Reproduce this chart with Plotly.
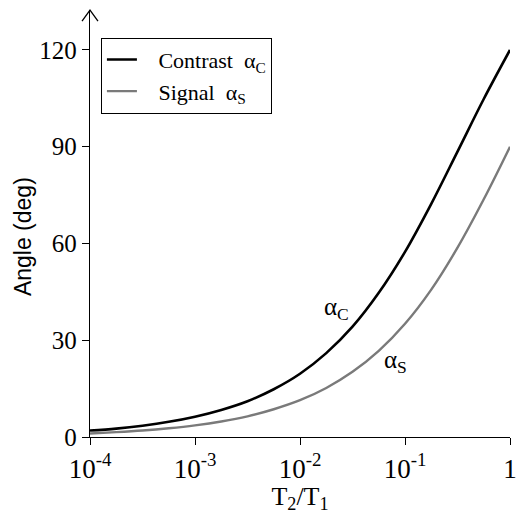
import plotly.graph_objects as go

# T2/T1 ratio (quarter-decade steps) and angles
ratio = [1e-4, 10**-3.75, 10**-3.5, 10**-3.25, 1e-3, 10**-2.75, 10**-2.5, 10**-2.25,
         1e-2, 10**-1.75, 10**-1.5, 10**-1.25, 1e-1, 10**-0.75, 10**-0.5, 10**-0.25, 1.0]
alpha_contrast = [2.0, 2.6, 3.5, 4.7, 6.3, 8.4, 11.1, 14.8, 19.6, 26.0, 34.2, 44.7,
                  57.4, 72.3, 88.5, 104.8, 120.0]
alpha_signal = [1.1, 1.5, 2.0, 2.7, 3.6, 4.8, 6.4, 8.6, 11.4, 15.2, 20.2, 26.7,
                35.1, 45.7, 58.7, 73.7, 90.0]

x_tickvals = [1e-4, 1e-3, 1e-2, 1e-1, 1]
x_ticktext = ["10<sup>-4</sup>", "10<sup>-3</sup>", "10<sup>-2</sup>", "10<sup>-1</sup>", "1"]
y_tickvals = [0, 30, 60, 90, 120]

SERIF = "Liberation Serif, Times New Roman, serif"
SANS = "Liberation Sans, Arial, sans-serif"
PAD = "\u00a0\u00a0\u00a0"

fig = go.Figure()
fig.add_trace(go.Scatter(
    x=ratio, y=alpha_contrast, mode="lines", line=dict(color="#000000", width=2.6, shape="spline"),
    name=PAD + "Contrast  α<sub>C</sub>"))
fig.add_trace(go.Scatter(
    x=ratio, y=alpha_signal, mode="lines", line=dict(color="#7a7a7a", width=2.4, shape="spline"),
    name=PAD + "Signal  α<sub>S</sub>"))

fig.add_annotation(x=-1.648, y=40.0, xref="x", yref="y", text="α<sub>C</sub>",
                   showarrow=False, font=dict(family=SERIF, size=25, color="black"))
fig.add_annotation(x=-1.086, y=23.3, xref="x", yref="y", text="α<sub>S</sub>",
                   showarrow=False, font=dict(family=SERIF, size=25, color="black"))

# y axis title
fig.add_annotation(x=-0.158, y=0.4696, xref="paper", yref="paper", text="Angle (deg)",
                   textangle=-90, showarrow=False, xanchor="center", yanchor="middle",
                   font=dict(family=SANS, size=23, color="black"))

# arrowhead on top of y axis
fig.add_shape(type="path", xref="paper", yref="paper",
              path="M -0.019,0.974 L 0,1 L 0.019,0.974",
              line=dict(color="black", width=1.3))

fig.update_layout(
    width=516, height=514,
    margin=dict(l=90, r=6, t=10, b=77, autoexpand=False),
    paper_bgcolor="white", plot_bgcolor="white",
    showlegend=True,
    legend=dict(x=0.026, y=0.935, xanchor="left", yanchor="top",
                bordercolor="black", borderwidth=1, bgcolor="white",
                font=dict(family=SERIF, size=22, color="black"),
                tracegroupgap=0),
    xaxis=dict(type="log", range=[-4, 0], tickvals=x_tickvals, ticktext=x_ticktext,
               showline=True, linecolor="black", linewidth=1.3, showgrid=False, zeroline=False,
               ticks="outside", ticklen=7, tickwidth=1.3, tickcolor="black",
               ticklabeloverflow="allow",
               tickfont=dict(family=SERIF, size=27, color="black"),
               title=dict(text="T<sub>2</sub>/T<sub>1</sub>", standoff=4,
                          font=dict(family=SERIF, size=26, color="black"))),
    yaxis=dict(range=[0, 132.4], tickvals=y_tickvals,
               showline=True, linecolor="black", linewidth=1.3, showgrid=False, zeroline=False,
               ticks="outside", ticklen=7, tickwidth=1.3, tickcolor="black",
               tickfont=dict(family=SERIF, size=25, color="black")),
)

fig.write_html("out.html", config={"displayModeBar": False},
               post_script="document.body.style.margin='0';document.body.style.overflow='hidden';")
